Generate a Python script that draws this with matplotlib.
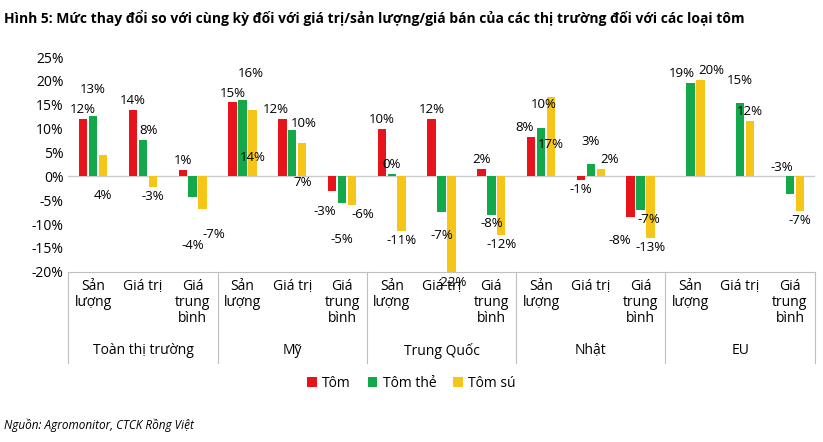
import matplotlib
matplotlib.use("Agg")
import matplotlib.pyplot as plt
import numpy as np

plt.rcParams['font.family'] = ['Open Sans', 'DejaVu Sans']

markets = ["Toàn thị trường", "Mỹ", "Trung Quốc", "Nhật", "EU"]
metrics = ["Sản\nlượng", "Giá trị", "Giá\ntrung\nbình"]
series = ["Tôm", "Tôm thẻ", "Tôm sú"]
colors = ["#e8141b", "#13a84a", "#f5c518"]

tom     = [12, 14, 1.3, 15.5, 12, -3, 10, 12, 1.5, 8.2, -0.8, -8.5, np.nan, np.nan, np.nan]
tom_the = [12.7, 7.7, -4.3, 16.1, 9.7, -5.5, 0.5, -7.5, -8, 10.2, 2.5, -7, 19.5, 15.3, -3.6]
tom_su  = [4.4, -2.2, -6.8, 14, 7, -6, -11.5, -20.3, -12.3, 16.7, 1.5, -13, 20.2, 11.6, -7.2]

lab_tom     = ["12%", "14%", "1%", "15%", "12%", "-3%", "10%", "12%", "2%", "8%", "-1%", "-8%", "", "", ""]
lab_tom_the = ["13%", "8%", "-4%", "16%", "10%", "-5%", "0%", "-7%", "-8%", "10%", "3%", "-7%", "19%", "15%", "-3%"]
lab_tom_su  = ["4%", "-3%", "-7%", "14%", "7%", "-6%", "-11%", "-22%", "-12%", "17%", "2%", "-13%", "20%", "12%", "-7%"]

# label offsets (points) keyed by (series, index)
offsets = {
    (0, 4): (-5, 2), (0, 5): (-5, -10), (0, 9): (-5, 2), (0, 11): (-8, -12),
    (1, 0): (0, 14), (1, 1): (4, 2), (1, 2): (0, -30), (1, 3): (6, 14), (1, 4): (8, 0),
    (1, 5): (0, -22), (1, 6): (0, 2), (1, 7): (0, -12), (1, 9): (2, 12), (1, 10): (0, 12),
    (1, 11): (6, -2), (1, 12): (-6, 2), (1, 13): (0, 12), (1, 14): (-6, 14),
    (2, 0): (0, -24), (2, 2): (8, -14), (2, 3): (0, -30), (2, 4): (0, -24), (2, 5): (8, -2),
    (2, 9): (0, -30), (2, 10): (6, 2), (2, 12): (8, 2),
}

fig = plt.figure(figsize=(8.23, 4.42), dpi=100)
ax = fig.add_axes([0.083, 0.385, 0.907, 0.486])
x = np.arange(15)
w = 0.17
vals = [tom, tom_the, tom_su]
labs = [lab_tom, lab_tom_the, lab_tom_su]
for i in range(3):
    ax.bar(x + (i - 1) * 0.2, vals[i], width=w, color=colors[i], label=series[i], zorder=3)
    for j in range(15):
        v = vals[i][j]
        if np.isnan(v) or labs[i][j] == "":
            continue
        dx, dy = offsets.get((i, j), (0, 2) if v >= 0 else (0, -2))
        ax.annotate(labs[i][j], (x[j] + (i - 1) * 0.2, v), xytext=(dx, dy),
                    textcoords="offset points", ha="center",
                    va="bottom" if dy >= 0 else "top", fontsize=9.5, zorder=4,
                    annotation_clip=False)

ax.axhline(0, color="#cccccc", lw=1, zorder=2)
ax.set_xlim(-0.5, 14.5)
ax.set_ylim(-20, 25)
ax.set_yticks(np.arange(-20, 26, 5))
ax.set_yticklabels([f"{t}%" for t in range(-20, 26, 5)], fontsize=10)
ax.set_xticks([])
for s in ax.spines.values():
    s.set_visible(False)
ax.tick_params(axis="y", length=0)

for j in range(15):
    ax.text(x[j], -21.5, metrics[j % 3], ha="center", va="top", fontsize=10, linespacing=1.1)
for g in range(5):
    ax.text(3 * g + 1, -36.5, markets[g], ha="center", va="center", fontsize=10)
for b in range(6):
    ax.plot([3 * b - 0.5, 3 * b - 0.5], [-20, -39], color="#bfbfbf", lw=0.8, clip_on=False)
ax.plot([-0.5, 14.5], [-20, -20], color="#bfbfbf", lw=0.8, clip_on=False)

fig.legend(loc="center", bbox_to_anchor=(0.5, 0.133), ncol=3, frameon=False, fontsize=10,
           handlelength=0.7, handleheight=0.7, columnspacing=1.2, handletextpad=0.4)

fig.text(0.005, 0.96, "Hình 5: Mức thay đổi so với cùng kỳ đối với giá trị/sản lượng/giá bán của các thị trường đối với các loại tôm",
         fontsize=10, fontweight="bold", va="center")
fig.text(0.005, 0.038, "Nguồn: Agromonitor, CTCK Rồng Việt", fontsize=8.5, style="italic", va="center")
fig.savefig("out.png", dpi=100)
